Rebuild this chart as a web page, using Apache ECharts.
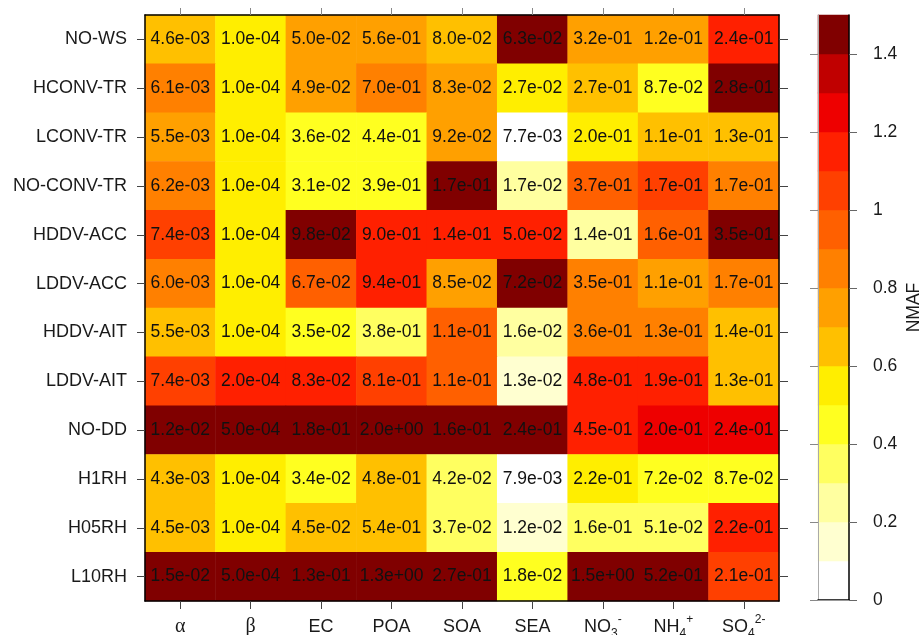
<!DOCTYPE html>
<html>
<head>
<meta charset="utf-8">
<script src="https://cdn.jsdelivr.net/npm/echarts@6/dist/echarts.min.js"></script>
<style>
html, body { margin: 0; padding: 0; background: #fff; }
#main { width: 922px; height: 635px; }
</style>
</head>
<body>
<div id="main"></div>
<script>
// rows top -> bottom
var rowNames = ['NO-WS', 'HCONV-TR', 'LCONV-TR', 'NO-CONV-TR', 'HDDV-ACC', 'LDDV-ACC',
    'HDDV-AIT', 'LDDV-AIT', 'NO-DD', 'H1RH', 'H05RH', 'L10RH'];
var colNames = ['alpha', 'beta', 'EC', 'POA', 'SOA', 'SEA', 'NO3', 'NH4', 'SO4'];
var colLabels = ['{g|α}', '{g|β}', '{n|EC}', '{n|POA}', '{n|SOA}', '{n|SEA}',
    '{n|NO}{sub|3}{sup|-}', '{n|NH}{sub|4}{sup|+}', '{n|SO}{sub|4}{sup|2-}'];

// printed value in each cell
var cellText = [
    ['4.6e-03', '1.0e-04', '5.0e-02', '5.6e-01', '8.0e-02', '6.3e-02', '3.2e-01', '1.2e-01', '2.4e-01'],
    ['6.1e-03', '1.0e-04', '4.9e-02', '7.0e-01', '8.3e-02', '2.7e-02', '2.7e-01', '8.7e-02', '2.8e-01'],
    ['5.5e-03', '1.0e-04', '3.6e-02', '4.4e-01', '9.2e-02', '7.7e-03', '2.0e-01', '1.1e-01', '1.3e-01'],
    ['6.2e-03', '1.0e-04', '3.1e-02', '3.9e-01', '1.7e-01', '1.7e-02', '3.7e-01', '1.7e-01', '1.7e-01'],
    ['7.4e-03', '1.0e-04', '9.8e-02', '9.0e-01', '1.4e-01', '5.0e-02', '1.4e-01', '1.6e-01', '3.5e-01'],
    ['6.0e-03', '1.0e-04', '6.7e-02', '9.4e-01', '8.5e-02', '7.2e-02', '3.5e-01', '1.1e-01', '1.7e-01'],
    ['5.5e-03', '1.0e-04', '3.5e-02', '3.8e-01', '1.1e-01', '1.6e-02', '3.6e-01', '1.3e-01', '1.4e-01'],
    ['7.4e-03', '2.0e-04', '8.3e-02', '8.1e-01', '1.1e-01', '1.3e-02', '4.8e-01', '1.9e-01', '1.3e-01'],
    ['1.2e-02', '5.0e-04', '1.8e-01', '2.0e+00', '1.6e-01', '2.4e-01', '4.5e-01', '2.0e-01', '2.4e-01'],
    ['4.3e-03', '1.0e-04', '3.4e-02', '4.8e-01', '4.2e-02', '7.9e-03', '2.2e-01', '7.2e-02', '8.7e-02'],
    ['4.5e-03', '1.0e-04', '4.5e-02', '5.4e-01', '3.7e-02', '1.2e-02', '1.6e-01', '5.1e-02', '2.2e-01'],
    ['1.5e-02', '5.0e-04', '1.3e-01', '1.3e+00', '2.7e-01', '1.8e-02', '1.5e+00', '5.2e-01', '2.1e-01']
];

// NMAF (cell colour)
var nmaf = [
    [0.65, 0.55, 0.75, 0.75, 0.65, 1.45, 0.75, 0.75, 1.15],
    [0.85, 0.55, 0.75, 0.85, 0.75, 0.55, 0.65, 0.45, 1.45],
    [0.75, 0.55, 0.45, 0.45, 0.75, 0.05, 0.55, 0.65, 0.65],
    [0.85, 0.55, 0.45, 0.45, 1.45, 0.25, 0.95, 1.05, 0.85],
    [1.05, 0.55, 1.45, 1.15, 1.15, 1.15, 0.25, 0.95, 1.45],
    [0.85, 0.55, 0.95, 1.15, 0.75, 1.45, 0.85, 0.75, 0.85],
    [0.65, 0.55, 0.45, 0.35, 0.95, 0.25, 0.85, 0.85, 0.65],
    [1.05, 1.15, 1.15, 1.05, 0.95, 0.15, 1.15, 1.15, 0.65],
    [1.45, 1.45, 1.45, 1.45, 1.45, 1.45, 1.15, 1.25, 1.25],
    [0.65, 0.55, 0.45, 0.65, 0.35, 0.05, 0.55, 0.45, 0.45],
    [0.65, 0.55, 0.65, 0.65, 0.35, 0.15, 0.35, 0.35, 1.15],
    [1.45, 1.45, 1.45, 1.45, 1.45, 0.45, 1.45, 1.45, 1.05]
];

// colour scale: 15 bins of 0.1
var binLower = [0, 0.1, 0.2, 0.3, 0.4, 0.5, 0.6, 0.7, 0.8, 0.9, 1.0, 1.1, 1.2, 1.3, 1.4];
var binColors = ['#ffffff', '#ffffd0', '#ffffa0', '#ffff60', '#ffff20', '#ffee00', '#ffc000',
    '#ffa000', '#ff8000', '#ff6000', '#ff4000', '#ff2000', '#ee0000', '#c00000', '#800000'];
var barTicks = [0, 0.2, 0.4, 0.6, 0.8, 1, 1.2, 1.4];

var FONT = 'Liberation Sans';

var myChart = echarts.init(document.getElementById('main'));

var cells = [];
rowNames.forEach(function (r, i) {
    colNames.forEach(function (c, j) {
        cells.push([j, i, nmaf[i][j], cellText[i][j]]);
    });
});

var pieces = binLower.map(function (lo, i) {
    var p = { gte: lo, color: binColors[i] };
    if (i < binLower.length - 1) p.lt = binLower[i + 1];
    return p;
});

var barData = binLower.map(function (lo, i) {
    return [0, i, lo + 0.05];
});

var textColor = '#1a1a1a';

var option = {
    animation: false,
    backgroundColor: '#fff',
    textStyle: { fontFamily: FONT },
    grid: [
        { left: 145, top: 15, width: 634, height: 586, outerBoundsMode: 'none', containLabel: false },
        { left: 818, top: 15, width: 31, height: 585, outerBoundsMode: 'none', containLabel: false }
    ],
    visualMap: {
        type: 'piecewise',
        show: false,
        dimension: 2,
        seriesIndex: [0, 1],
        pieces: pieces
    },
    xAxis: [
        {
            type: 'category', gridIndex: 0, data: colNames, position: 'bottom', z: 10,
            axisLine: { show: true, lineStyle: { color: '#000', width: 1.5 } },
            axisTick: { show: true, alignWithLabel: true, length: 8, lineStyle: { color: '#444' } },
            axisLabel: {
                interval: 0,
                margin: 13,
                formatter: function (v, i) { return colLabels[i]; },
                rich: {
                    n: { fontFamily: FONT, fontSize: 18, color: textColor, lineHeight: 26 },
                    g: { fontFamily: 'Liberation Serif', fontSize: 20, color: textColor, lineHeight: 26 },
                    sub: { fontFamily: FONT, fontSize: 12, color: textColor, lineHeight: 12, verticalAlign: 'bottom' },
                    sup: { fontFamily: FONT, fontSize: 12, color: textColor, lineHeight: 12, verticalAlign: 'top' }
                }
            }
        },
        {
            type: 'category', gridIndex: 0, data: colNames, position: 'top', z: 10,
            axisLine: { show: true, lineStyle: { color: '#000', width: 1.5 } },
            axisTick: { show: true, alignWithLabel: true, length: 7, lineStyle: { color: '#888' } },
            axisLabel: { show: false }
        },
        {
            type: 'category', gridIndex: 1, data: [''], position: 'top', z: 10,
            axisLine: { show: true, lineStyle: { color: '#000', width: 1.5 } },
            axisTick: { show: false }, axisLabel: { show: false }
        },
        {
            type: 'category', gridIndex: 1, data: [''], position: 'bottom', z: 10,
            axisLine: { show: true, lineStyle: { color: '#999', width: 1 } },
            axisTick: { show: false }, axisLabel: { show: false }
        }
    ],
    yAxis: [
        {
            type: 'category', gridIndex: 0, data: rowNames, inverse: true, position: 'left', z: 10,
            axisLine: { show: true, lineStyle: { color: '#000', width: 1.5 } },
            axisTick: { show: true, alignWithLabel: true, length: 8, lineStyle: { color: '#444' } },
            axisLabel: { interval: 0, margin: 18, fontSize: 18, color: textColor, fontFamily: FONT }
        },
        {
            type: 'category', gridIndex: 0, data: rowNames, inverse: true, position: 'right', z: 10,
            axisLine: { show: true, lineStyle: { color: '#000', width: 1.5 } },
            axisTick: { show: true, alignWithLabel: true, length: 9, lineStyle: { color: '#444' } },
            axisLabel: { show: false }
        },
        {
            type: 'category', gridIndex: 1, data: binLower.map(String), show: false
        },
        {
            type: 'value', gridIndex: 1, min: 0, max: 1.5, position: 'right', z: 10,
            axisLine: { show: true, lineStyle: { color: '#000', width: 1.5 } },
            axisTick: { show: true, length: 8, customValues: barTicks, lineStyle: { color: '#666' } },
            axisLabel: { margin: 24, fontSize: 17.5, color: textColor, fontFamily: FONT, customValues: barTicks },
            splitLine: { show: false },
            name: 'NMAF', nameLocation: 'middle', nameRotate: 90, nameGap: 56,
            nameTextStyle: { fontSize: 17.5, color: textColor, fontFamily: FONT }
        },
        {
            type: 'value', gridIndex: 1, min: 0, max: 1.5, position: 'left', z: 10,
            axisLine: { show: true, lineStyle: { color: '#aaa', width: 1 } },
            axisTick: { show: true, length: 8, customValues: barTicks, lineStyle: { color: '#888' } },
            axisLabel: { show: false },
            splitLine: { show: false }
        }
    ],
    series: [
        {
            type: 'heatmap',
            xAxisIndex: 0,
            yAxisIndex: 0,
            z: 1,
            data: cells,
            label: {
                show: true,
                color: '#111',
                fontSize: 17.5,
                fontFamily: FONT,
                formatter: function (p) { return p.data[3]; }
            },
            emphasis: { disabled: true }
        },
        {
            type: 'heatmap',
            xAxisIndex: 2,
            yAxisIndex: 2,
            z: 1,
            data: barData,
            emphasis: { disabled: true }
        }
    ]
};

myChart.setOption(option);
</script>
</body>
</html>
